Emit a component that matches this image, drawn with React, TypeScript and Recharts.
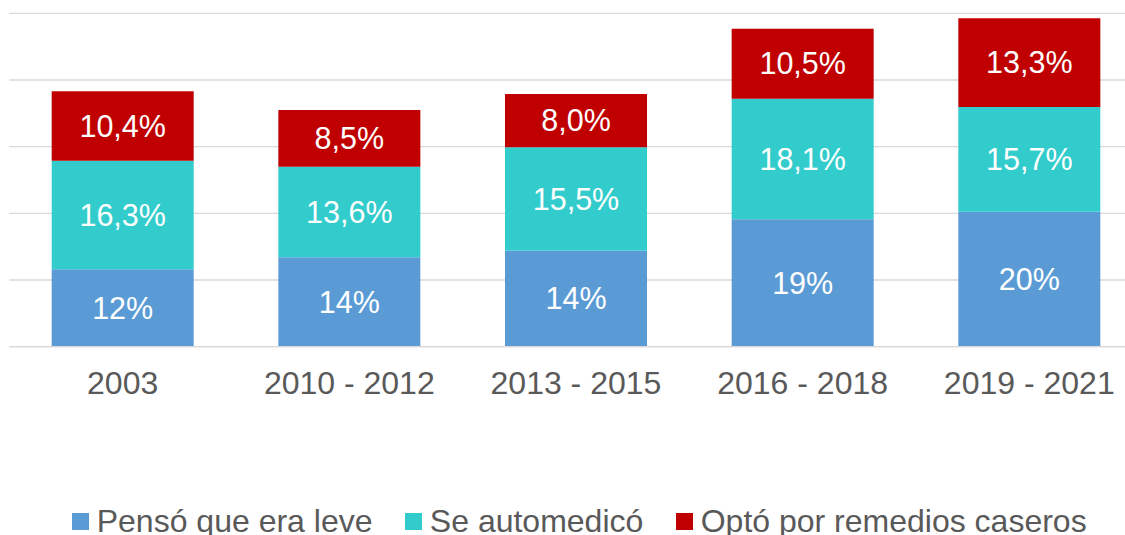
import React from 'react';
import { BarChart, Bar, XAxis, YAxis, CartesianGrid, Legend, LabelList } from 'recharts';

const categories = ['2003', '2010 - 2012', '2013 - 2015', '2016 - 2018', '2019 - 2021'];
const leveValues = [11.6, 13.4, 14.4, 19.1, 20.25];
const leveLabels = ['12%', '14%', '14%', '19%', '20%'];
const autoValues = [16.3, 13.6, 15.5, 18.1, 15.7];
const autoLabels = ['16,3%', '13,6%', '15,5%', '18,1%', '15,7%'];
const caseroValues = [10.4, 8.5, 8.0, 10.5, 13.3];
const caseroLabels = ['10,4%', '8,5%', '8,0%', '10,5%', '13,3%'];
const seriesNames = ['Pensó que era leve', 'Se automedicó', 'Optó por remedios caseros'];
const colors = ['#5B9BD5', '#33CCCC', '#C00000'];
const yTicks = [0, 10, 20, 30, 40, 50];

const data = categories.map((c, i) => ({
  cat: c,
  leve: leveValues[i],
  leveLabel: leveLabels[i],
  auto: autoValues[i],
  autoLabel: autoLabels[i],
  casero: caseroValues[i],
  caseroLabel: caseroLabels[i],
}));

const FONT = '"Liberation Sans", Arial, sans-serif';

const renderLegend = (props: any) => {
  const payload = [...(props.payload || [])].sort(
    (a: any, b: any) => seriesNames.indexOf(a.value) - seriesNames.indexOf(b.value)
  );
  return (
    <div
      style={{
        height: 32,
        display: 'flex',
        justifyContent: 'center',
        alignItems: 'center',
        fontFamily: FONT,
      }}
    >
      {payload.map((p: any, i: number) => (
        <div
          key={i}
          style={{
            display: 'flex',
            alignItems: 'center',
            marginLeft: i === 0 ? 0 : 33,
            lineHeight: '32px',
          }}
        >
          <span
            style={{
              display: 'inline-block',
              width: 16.7,
              height: 16.7,
              background: p.color,
              marginRight: 7.7,
              position: 'relative',
              top: 2.7,
            }}
          />
          <span
            style={{
              fontSize: 32,
              color: '#595959',
              whiteSpace: 'nowrap',
              position: 'relative',
              top: 1.5,
            }}
          >
            {p.value}
          </span>
        </div>
      ))}
    </div>
  );
};

export default function App() {
  return (
    <div
      style={{
        position: 'fixed',
        left: 0,
        top: 0,
        width: 1125,
        height: 535,
        overflow: 'hidden',
        background: '#ffffff',
        fontFamily: FONT,
      }}
    >
      <BarChart
        width={1160}
        height={535}
        data={data}
        margin={{ top: 13.33, right: 17.4, left: 9.3, bottom: 0 }}
        barCategoryGap="18.7%"
      >
        <CartesianGrid vertical={false} stroke="#d9d9d9" strokeWidth={1.3} />
        <YAxis hide domain={[0, 50]} ticks={yTicks} />
        <XAxis
          dataKey="cat"
          height={156.33}
          tickLine={false}
          tickMargin={19}
          axisLine={{ stroke: '#d9d9d9', strokeWidth: 1.3 }}
          tick={{ fill: '#595959', fontSize: 32, fontFamily: FONT }}
          interval={0}
        />
        <Legend
          verticalAlign="bottom"
          content={renderLegend}
          itemSorter={null as any}
          wrapperStyle={{ left: 0, width: 1159, bottom: 0 }}
        />
        <Bar dataKey="leve" name={seriesNames[0]} stackId="a" fill={colors[0]} isAnimationActive={false}>
          <LabelList dataKey="leveLabel" position="center" fill="#ffffff" fontSize={30.5} fontFamily={FONT} />
        </Bar>
        <Bar dataKey="auto" name={seriesNames[1]} stackId="a" fill={colors[1]} isAnimationActive={false}>
          <LabelList dataKey="autoLabel" position="center" fill="#ffffff" fontSize={30.5} fontFamily={FONT} />
        </Bar>
        <Bar dataKey="casero" name={seriesNames[2]} stackId="a" fill={colors[2]} isAnimationActive={false}>
          <LabelList dataKey="caseroLabel" position="center" fill="#ffffff" fontSize={30.5} fontFamily={FONT} />
        </Bar>
      </BarChart>
    </div>
  );
}
